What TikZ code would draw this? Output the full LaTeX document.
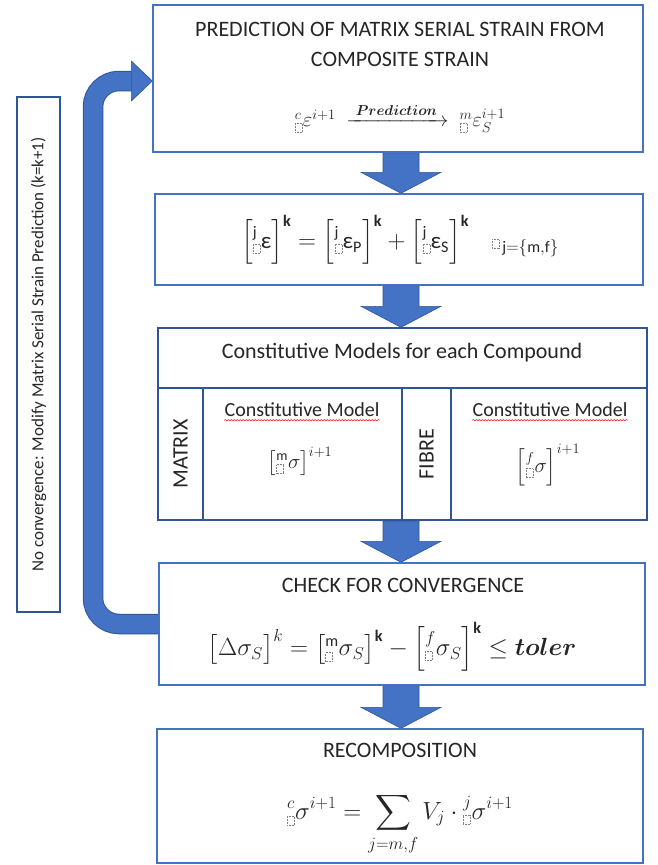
\documentclass[tikz,border=0pt]{standalone}
\usepackage{fontspec}
\setmainfont{Carlito}
\usepackage{amsmath}
\usetikzlibrary{calc,backgrounds,decorations.pathmorphing}
\definecolor{obl}{HTML}{4472C4}
\definecolor{dbl}{HTML}{2F5597}
\definecolor{txt}{HTML}{262626}
\newcommand{\ph}{\tikz[x=1pt,y=1pt,baseline=0pt]\draw[densely dotted,gray,line width=0.5pt] (0,0) rectangle (7,9);}
\newcommand{\bk}{\boldsymbol}
\begin{document}
\begin{tikzpicture}[x=1pt,y=-1pt,
  box/.style={draw=obl,line width=1.4pt,inner sep=0pt},
  sbox/.style={draw=dbl,line width=2pt,inner sep=0pt},
  lbl/.style={text=txt,inner sep=0pt,font=\fontsize{22}{30}\selectfont,align=center},
  sub/.style={text=txt,inner sep=0pt,font=\fontsize{20}{24}\selectfont},
  eq/.style={text=txt,inner sep=0pt,font=\fontsize{23}{27}\selectfont},
  wavy/.style={red,line width=0.5pt,decorate,decoration={snake,amplitude=0.7pt,segment length=3pt}}]
\useasboundingbox (0,0) rectangle (657,865);
% boxes
\node[box,minimum width=490pt,minimum height=147pt] (b1) at (398,78.5) {};
\node[box,minimum width=488pt,minimum height=91pt] (b2) at (399,239.5) {};
\node[sbox,line width=1.4pt,minimum width=489pt,minimum height=60pt] (b3) at (402.5,358) {};
\node[sbox,minimum width=45pt,minimum height=132pt] (ml) at (180.5,454) {};
\node[sbox,minimum width=199pt,minimum height=132pt] (mc) at (302.5,454) {};
\node[sbox,minimum width=49pt,minimum height=132pt] (fl) at (426.5,454) {};
\node[sbox,minimum width=196pt,minimum height=132pt] (fc) at (549,454) {};
\node[box,minimum width=486pt,minimum height=122pt] (b4) at (402,624) {};
\node[box,minimum width=486pt,minimum height=134pt] (b5) at (400,796) {};
\node[draw=dbl,line width=1.2pt,minimum width=43pt,minimum height=515pt,inner sep=0pt] (lb) at (38.5,354.5) {};
% texts
\node[lbl] (t1) at (400,44) {PREDICTION OF MATRIX SERIAL STRAIN FROM\\COMPOSITE STRAIN};
\node[eq,font=\fontsize{22}{26}\selectfont] (e1) at (400,118) {${}^{c}_{\ph}\varepsilon^{i+1}\ \xrightarrow{\ \bk{Prediction}\ }\ {}^{m}_{\ph}\varepsilon_{S}^{i+1}$};
\node[eq] (e2) at (400,240) {$\Big[{}^{\mathrm{j}}_{\ph}\text{ε}\Big]^{\mathbf{k}}=\Big[{}^{\mathrm{j}}_{\ph}\text{ε}_{\mathrm{P}}\Big]^{\mathbf{k}}+\Big[{}^{\mathrm{j}}_{\ph}\text{ε}_{\mathrm{S}}\Big]^{\mathbf{k}}\quad{\ph}_{\,\mathrm{j=\{m,f\}}}$};
\node[lbl] (t3) at (402,353) {Constitutive Models for each Compound};
\node[sub] (cm1) at (302,410) {Constitutive Model};
\node[sub] (cm2) at (550,410) {Constitutive Model};
\node[eq,font=\fontsize{20}{24}\selectfont] (e3a) at (300,461) {$\big[{}^{\mathrm{m}}_{\ph}\sigma\big]^{i+1}$};
\node[eq,font=\fontsize{20}{24}\selectfont] (e3b) at (548,465) {$\Big[{}^{f}_{\ph}\sigma\Big]^{i+1}$};
\node[lbl,rotate=90] (mt) at (ml) {MATRIX};
\node[lbl,rotate=90] (ft) at (fl) {FIBRE};
\node[lbl] (t4) at (403,585) {CHECK FOR CONVERGENCE};
\node[eq] (e4) at (392,647) {$\big[\Delta\sigma_{S}\big]^{k}=\big[{}^{\mathrm{m}}_{\ph}\sigma_{S}\big]^{\mathbf{k}}-\Big[{}^{f}_{\ph}\sigma_{S}\Big]^{\mathbf{k}}\leq\bk{toler}$};
\node[lbl] (t5) at (400,750) {RECOMPOSITION};
\node[eq] (e5) at (400,824) {$\displaystyle{}^{c}_{\ph}\sigma^{i+1}=\sum_{j=m,f}V_{j}\cdot{}^{j}_{\ph}\sigma^{i+1}$};
\node[text=txt,inner sep=0pt,font=\fontsize{17}{20}\selectfont,rotate=90] (lt) at (lb) {No convergence: Modify Matrix Serial Strain Prediction (k=k+1)};
% spell-check underlines
\draw[wavy] ($(cm1.south west)+(0,3)$) -- ($(cm1.south east)+(0,3)$);
\draw[wavy] ($(cm2.south west)+(0,3)$) -- ($(cm2.south east)+(0,3)$);
% arrows
\begin{scope}[on background layer]
\fill[white] (0,0) rectangle (657,865);
\foreach \a/\b in {b1/b2,b2/b3,mc/b4,b4/b5}{
  \path let \p1=(\a.south), \p2=(\b.north) in
    coordinate (s) at (401pt,\y1) coordinate (t) at (401pt,\y2);
  \filldraw[fill=obl,draw=dbl,line width=0.6pt] let \p1=(s), \p2=(t) in
    (\x1-18pt,\y1) -- (\x1-18pt,\y2+21pt) -- (\x1-40pt,\y2+21pt) -- (\x2,\y2)
    -- (\x1+40pt,\y2+21pt) -- (\x1+18pt,\y2+21pt) -- (\x1+18pt,\y1) -- cycle;
}
\coordinate (lp) at (93,81);
\draw[dbl,line width=20.5pt,rounded corners=26pt] (b4.west) -| (lp) -- ($(b1.west |- lp)+(-20,0)$);
\draw[obl,line width=18.5pt,rounded corners=26pt] ($(b4.west)+(0.6,0)$) -| (lp) -- ($(b1.west |- lp)+(-20,0)$);
\filldraw[fill=obl,draw=dbl,line width=0.6pt] ($(b1.west |- lp)+(-21,-20)$) -- (b1.west |- lp) -- ($(b1.west |- lp)+(-21,20)$) -- cycle;
\end{scope}
\end{tikzpicture}
\end{document}
